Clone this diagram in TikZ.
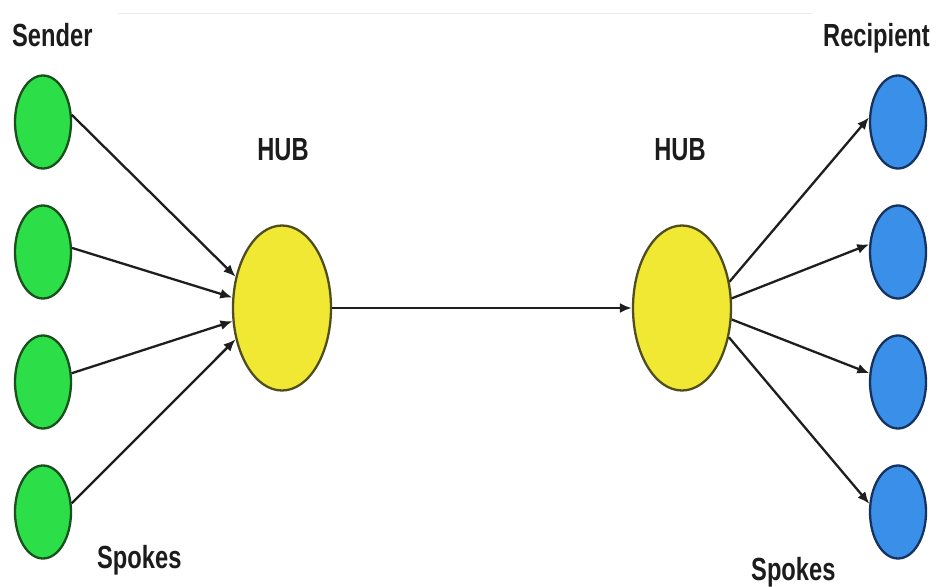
\documentclass[tikz,border=0pt]{standalone}
\usepackage{fontspec}
\setmainfont{Liberation Sans}
\newfontfamily\labfont{Liberation Sans}[FakeStretch=0.74]
\usetikzlibrary{arrows.meta,shapes.geometric}
\definecolor{gfill}{RGB}{44,222,72}
\definecolor{gline}{RGB}{24,80,30}
\definecolor{bfill}{RGB}{58,143,232}
\definecolor{bline}{RGB}{22,50,95}
\definecolor{hfill}{RGB}{240,232,50}
\definecolor{hline}{RGB}{80,78,30}
\definecolor{txt}{RGB}{28,28,28}
\definecolor{lk}{RGB}{30,30,30}
\begin{document}
\begin{tikzpicture}[x=1pt,y=-1pt,
  spoke/.style={ellipse, minimum width=56pt, minimum height=93pt, inner sep=0pt, line width=2.3pt},
  sender/.style={spoke, draw=gline, fill=gfill},
  recip/.style={spoke, draw=bline, fill=bfill},
  hub/.style={ellipse, minimum width=98pt, minimum height=165pt, inner sep=0pt, draw=hline, fill=hfill, line width=2.3pt},
  lab/.style={font=\labfont\bfseries\fontsize{32}{36}\selectfont, text=txt, inner sep=0pt},
  link/.style={draw=lk, line width=2.3pt, -{Latex[length=12pt,width=10pt]}}]
\fill[white] (0,0) rectangle (936,586);
\useasboundingbox (0,0) rectangle (936,586);
\draw[black!8, line width=1pt] (118,14) -- (812,14);

% labels
\node[lab, anchor=base west] (lsender) at (12,46) {Sender};
\node[lab, anchor=base west] (lrecip) at (823,47) {Recipient};
\node[lab, anchor=base] (lhub1) at (283,160) {HUB};
\node[lab, anchor=base] (lhub2) at (680,160) {HUB};
\node[lab, anchor=base west] (lspk1) at (97,568) {Spokes};
\node[lab, anchor=base west] (lspk2) at (751,580) {Spokes};

% nodes
\node[sender] (g1) at (43,122) {};
\node[sender] (g2) at (43,252) {};
\node[sender] (g3) at (43,382) {};
\node[sender] (g4) at (43,512) {};
\node[recip] (b1) at (898,122) {};
\node[recip] (b2) at (898,252) {};
\node[recip] (b3) at (898,382) {};
\node[recip] (b4) at (898,512) {};
\node[hub] (h1) at (282,308) {};
\node[hub] (h2) at (682,308) {};

% connectors
\draw[link] (g1.14) -- (h1.146);
\draw[link] (g2.8) -- (h1.168);
\draw[link] (g3.17) -- (h1.195);
\draw[link] (g4.17) -- (h1.214);
\draw[link] (h1.east) -- (h2.west);
\draw[link] (h2.29) -- (b1.171);
\draw[link] (h2.11) -- (b2.165);
\draw[link] (h2.-13) -- (b3.163);
\draw[link] (h2.-32) -- (b4.164);
\end{tikzpicture}
\end{document}
